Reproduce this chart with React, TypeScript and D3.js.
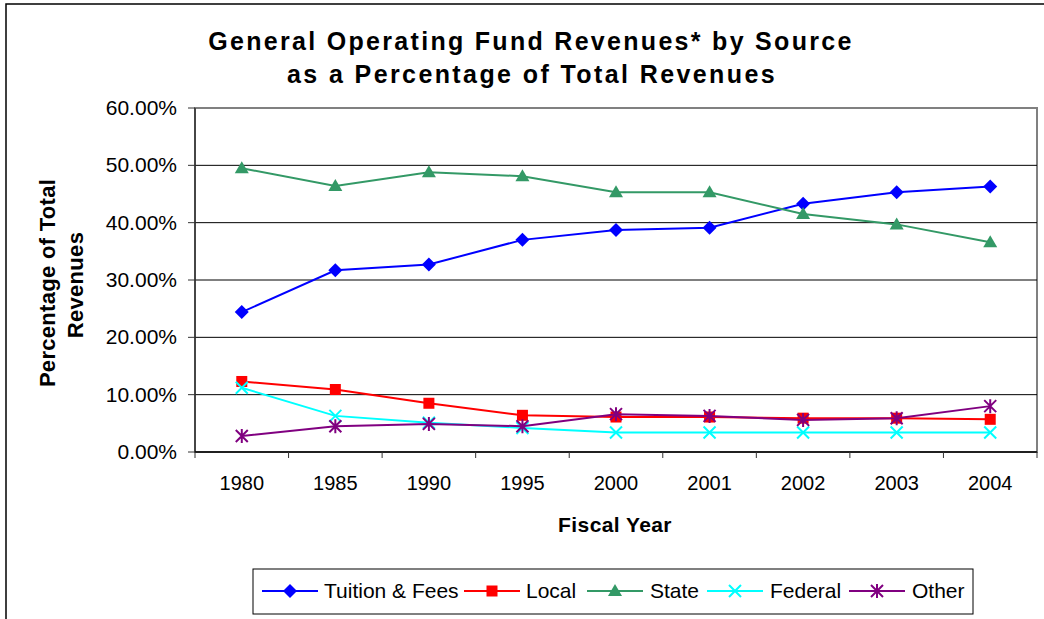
import * as d3 from "d3";

const years = ["1980", "1985", "1990", "1995", "2000", "2001", "2002", "2003", "2004"];
const tuition = [24.4, 31.7, 32.7, 37.0, 38.7, 39.1, 43.3, 45.3, 46.3];
const local = [12.3, 10.9, 8.5, 6.4, 6.1, 6.1, 5.9, 5.9, 5.7];
const state = [49.5, 46.4, 48.8, 48.1, 45.3, 45.3, 41.5, 39.7, 36.6];
const federal = [11.2, 6.3, 5.1, 4.2, 3.4, 3.4, 3.4, 3.4, 3.4];
const other = [2.8, 4.5, 4.9, 4.5, 6.6, 6.3, 5.6, 5.9, 8.0];
const yTicks = [0, 10, 20, 30, 40, 50, 60];

const FONT = "'Liberation Sans', Arial, sans-serif";
const W = 1044;
const H = 619;
const PLOT = { left: 195, right: 1037, top: 108, bottom: 452 };

type Shape = "diamond" | "square" | "triangle" | "x" | "star";

const series: { name: string; values: number[]; color: string; shape: Shape }[] = [
  { name: "Tuition & Fees", values: tuition, color: "#0000FF", shape: "diamond" },
  { name: "Local", values: local, color: "#FF0000", shape: "square" },
  { name: "State", values: state, color: "#339966", shape: "triangle" },
  { name: "Federal", values: federal, color: "#00FFFF", shape: "x" },
  { name: "Other", values: other, color: "#800080", shape: "star" },
];

// marker drawn around (cx, cy)
const Marker = ({ shape, cx, cy, color }: { shape: Shape; cx: number; cy: number; color: string }) => {
  if (shape === "diamond") {
    const s = 7;
    return <path d={`M${cx},${cy - s}L${cx + s},${cy}L${cx},${cy + s}L${cx - s},${cy}Z`} fill={color} />;
  }
  if (shape === "square") {
    return <rect x={cx - 5.5} y={cy - 5.5} width={11} height={11} fill={color} />;
  }
  if (shape === "triangle") {
    return <path d={`M${cx},${cy - 7}L${cx + 7},${cy + 5}L${cx - 7},${cy + 5}Z`} fill={color} />;
  }
  if (shape === "x") {
    const s = 6;
    return (
      <path
        d={`M${cx - s},${cy - s}L${cx + s},${cy + s}M${cx - s},${cy + s}L${cx + s},${cy - s}`}
        stroke={color}
        strokeWidth={2}
      />
    );
  }
  const s = 6;
  return (
    <path
      d={`M${cx - s},${cy - s}L${cx + s},${cy + s}M${cx - s},${cy + s}L${cx + s},${cy - s}M${cx},${cy - 7}L${cx},${cy + 7}`}
      stroke={color}
      strokeWidth={2}
    />
  );
};

const App = () => {
  const x = d3.scaleBand<string>().domain(years).range([PLOT.left, PLOT.right]).padding(0);
  const y = d3.scaleLinear().domain([0, 60]).range([PLOT.bottom, PLOT.top]);
  const cx = (yr: string) => (x(yr) || 0) + x.bandwidth() / 2;
  const fmt = (v: number) => d3.format(".2f")(v) + "%";

  const line = d3
    .line<number>()
    .x((_, i) => cx(years[i]))
    .y((d) => y(d));

  // legend layout
  const legendItems = [
    { lx: 262, tx: 324 },
    { lx: 464, tx: 526 },
    { lx: 587, tx: 650 },
    { lx: 707, tx: 770 },
    { lx: 849, tx: 912 },
  ];

  return (
    <svg
      width={W}
      height={H}
      style={{ position: "absolute", left: 0, top: 0, background: "#fff" }}
      fontFamily={FONT}
    >
      <rect x={0} y={0} width={W} height={H} fill="#fff" />
      {/* chart area border */}
      <rect x={6} y={4} width={W + 20} height={H + 20} fill="none" stroke="#000" strokeWidth={1.5} />

      {/* title */}
      <text x={531} y={50} textAnchor="middle" fontSize={25} fontWeight="bold" letterSpacing={2.3}>
        General Operating Fund Revenues* by Source
      </text>
      <text x={532} y={83} textAnchor="middle" fontSize={25} fontWeight="bold" letterSpacing={2.4}>
        as a Percentage of Total Revenues
      </text>

      {/* plot area frame */}
      <rect
        x={PLOT.left}
        y={PLOT.top}
        width={PLOT.right - PLOT.left}
        height={PLOT.bottom - PLOT.top}
        fill="#fff"
        stroke="#808080"
        strokeWidth={2}
      />

      {/* gridlines */}
      {yTicks
        .filter((t) => t > 0 && t < 60)
        .map((t) => (
          <line key={t} x1={PLOT.left} x2={PLOT.right} y1={y(t)} y2={y(t)} stroke="#000" strokeWidth={1} />
        ))}

      {/* y axis */}
      <line x1={PLOT.left} x2={PLOT.left} y1={PLOT.top} y2={PLOT.bottom} stroke="#333" strokeWidth={1.5} />
      {yTicks.map((t) => (
        <g key={t}>
          <line x1={PLOT.left - 7} x2={PLOT.left} y1={y(t)} y2={y(t)} stroke="#333" strokeWidth={1} />
          <text x={177} y={y(t) + 7} textAnchor="end" fontSize={21}>
            {fmt(t)}
          </text>
        </g>
      ))}

      {/* x axis */}
      <line x1={PLOT.left} x2={PLOT.right} y1={PLOT.bottom} y2={PLOT.bottom} stroke="#000" strokeWidth={1.5} />
      {years.map((yr) => (
        <line
          key={"t" + yr}
          x1={x(yr)}
          x2={x(yr)}
          y1={PLOT.bottom}
          y2={PLOT.bottom + 6}
          stroke="#333"
          strokeWidth={1}
        />
      ))}
      <line x1={PLOT.right} x2={PLOT.right} y1={PLOT.bottom} y2={PLOT.bottom + 6} stroke="#333" />
      {years.map((yr) => (
        <text key={yr} x={cx(yr)} y={490} textAnchor="middle" fontSize={20}>
          {yr}
        </text>
      ))}

      {/* axis titles */}
      <text x={615} y={532} textAnchor="middle" fontSize={21} fontWeight="bold" letterSpacing={0.4}>
        Fiscal Year
      </text>
      <g transform="translate(55,283) rotate(-90)">
        <text x={0} y={0} textAnchor="middle" fontSize={22} fontWeight="bold" letterSpacing={0.3}>
          Percentage of Total
        </text>
      </g>
      <g transform="translate(83,285) rotate(-90)">
        <text x={0} y={0} textAnchor="middle" fontSize={22} fontWeight="bold" letterSpacing={0.3}>
          Revenues
        </text>
      </g>

      {/* series */}
      {series.map((s) => (
        <g key={s.name}>
          <path d={line(s.values) || ""} fill="none" stroke={s.color} strokeWidth={2} />
          {s.values.map((v, i) => (
            <Marker key={i} shape={s.shape} cx={cx(years[i])} cy={y(v)} color={s.color} />
          ))}
        </g>
      ))}

      {/* legend */}
      <rect x={253} y={569} width={720} height={45} fill="#fff" stroke="#000" strokeWidth={1} />
      {series.map((s, i) => {
        const it = legendItems[i];
        return (
          <g key={"lg" + s.name}>
            <line x1={it.lx} x2={it.lx + 56} y1={591} y2={591} stroke={s.color} strokeWidth={2} />
            <Marker shape={s.shape} cx={it.lx + 28} cy={591} color={s.color} />
            <text x={it.tx} y={598} fontSize={21}>
              {s.name}
            </text>
          </g>
        );
      })}
    </svg>
  );
};

export default App;
